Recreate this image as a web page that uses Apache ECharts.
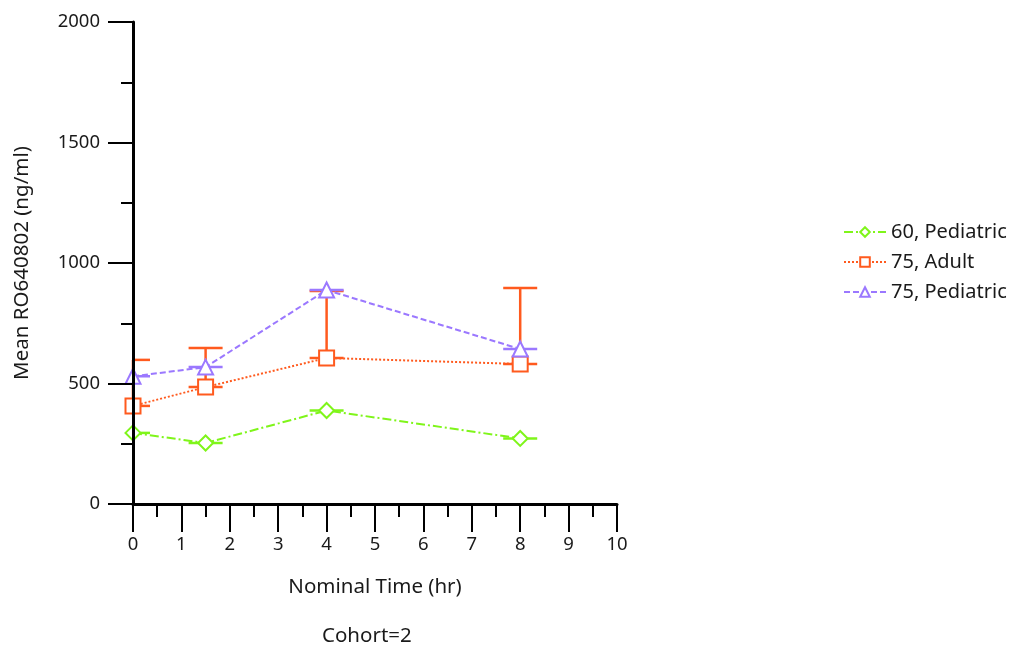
<!DOCTYPE html>
<html>
<head>
<meta charset="utf-8">
<script src="https://cdn.jsdelivr.net/npm/echarts@6/dist/echarts.min.js"></script>
<style>
  html, body { margin: 0; padding: 0; background: #fff; }
  #chart { width: 1017px; height: 648px; }
</style>
</head>
<body>
<div id="chart"></div>
<script>
// nominal sampling times (hr)
var times = [0, 1.5, 4, 8];
// mean concentrations per group
var ped60 = [295, 253, 388, 272];
var adult75 = [407, 485, 606, 581];
var ped75 = [530, 568, 888, 643];
// upper SD per group (0 = single subject)
var ped60Sd = [0, 0, 0, 0];
var adult75Sd = [191, 162, 278, 315];
var ped75Sd = [0, 0, 0, 0];

var groupNames = ['60, Pediatric', '75, Adult', '75, Pediatric'];
var xTicks = [0, 1, 2, 3, 4, 5, 6, 7, 8, 9, 10];

var font = 'Noto Sans';
var textColor = '#1a1a1a';

function pairs(vals) {
    var res = [];
    for (var i = 0; i < times.length; i++) res.push([times[i], vals[i]]);
    return res;
}

function lineSeries(name, vals, color, symbol, size, dash) {
    return {
        type: 'line',
        name: name,
        data: pairs(vals),
        symbol: symbol,
        symbolSize: size,
        z: 3,
        lineStyle: { color: color, width: 2, type: dash },
        itemStyle: { color: color, borderWidth: 2 }
    };
}

function errorSeries(name, vals, sds, color) {
    var data = [];
    for (var i = 0; i < times.length; i++) data.push([times[i], vals[i], vals[i] + sds[i]]);
    return {
        type: 'custom',
        name: name + ' SD',
        data: data,
        z: 2,
        renderItem: function (params, api) {
            var left = params.coordSys.x;
            var lo = api.coord([api.value(0), api.value(1)]);
            var hi = api.coord([api.value(0), api.value(2)]);
            var w = 17;
            var st = { stroke: color, lineWidth: 2.5 };
            var kids = [{
                type: 'line',
                shape: { x1: Math.max(lo[0] - w, left), y1: lo[1], x2: lo[0] + w, y2: lo[1] },
                style: st
            }];
            if (lo[1] - hi[1] > 0.5) {
                kids.push({ type: 'line', shape: { x1: lo[0], y1: lo[1], x2: hi[0], y2: hi[1] }, style: st });
                kids.push({
                    type: 'line',
                    shape: { x1: Math.max(hi[0] - w, left), y1: hi[1], x2: hi[0] + w, y2: hi[1] },
                    style: st
                });
            }
            return { type: 'group', children: kids };
        }
    };
}

var green = '#7ff51a';
var orange = '#ff5a1e';
var purple = '#9b78ff';

var myChart = echarts.init(document.getElementById('chart'));
var option = {
    backgroundColor: '#fff',
    animation: false,
    grid: { left: 133, top: 22, width: 484, height: 482 },
    legend: {
        data: groupNames,
        orient: 'vertical',
        left: 838,
        top: 216,
        itemWidth: 42,
        itemHeight: 12,
        itemGap: 8,
        textStyle: { fontFamily: font, fontSize: 20, color: textColor, lineHeight: 22 }
    },
    xAxis: {
        type: 'value',
        min: 0,
        max: 10,
        interval: 1,
        z: 10,
        name: 'Nominal Time (hr)',
        nameLocation: 'middle',
        nameGap: 73,
        nameTextStyle: { fontFamily: font, fontSize: 20.5, color: textColor },
        axisLine: { show: true, lineStyle: { color: '#000', width: 3 } },
        axisTick: { show: true, length: 28, lineStyle: { color: '#000', width: 2 } },
        minorTick: { show: true, splitNumber: 2, length: 13, lineStyle: { color: '#000', width: 2 } },
        axisLabel: {
            margin: 31, fontFamily: font, fontSize: 18.5, color: textColor,
            formatter: function (v) { return xTicks.indexOf(v) >= 0 ? String(v) : ''; }
        },
        splitLine: { show: false }
    },
    yAxis: {
        type: 'value',
        min: 0,
        max: 2000,
        interval: 500,
        z: 10,
        name: 'Mean RO640802 (ng/ml)',
        nameLocation: 'middle',
        nameGap: 100,
        nameTextStyle: { fontFamily: font, fontSize: 20.5, color: textColor },
        axisLine: { show: true, lineStyle: { color: '#000', width: 3 } },
        axisTick: { show: true, length: 25, lineStyle: { color: '#000', width: 2 } },
        minorTick: { show: true, splitNumber: 2, length: 12, lineStyle: { color: '#000', width: 2 } },
        axisLabel: {
            margin: 33, fontFamily: font, fontSize: 18.5, color: textColor,
            formatter: function (v) { return String(v); }
        },
        splitLine: { show: false }
    },
    graphic: [{
        type: 'text',
        left: 322,
        top: 626,
        style: { text: 'Cohort=2', font: '20.5px "Noto Sans"', fill: textColor }
    }],
    series: [
        errorSeries(groupNames[0], ped60, ped60Sd, green),
        errorSeries(groupNames[1], adult75, adult75Sd, orange),
        errorSeries(groupNames[2], ped75, ped75Sd, purple),
        lineSeries(groupNames[0], ped60, green, 'emptyDiamond', 15, [9, 3, 2, 3]),
        lineSeries(groupNames[1], adult75, orange, 'emptyRect', 15, [2, 2]),
        lineSeries(groupNames[2], ped75, purple, 'emptyTriangle', 15, [6, 3])
    ]
};
myChart.setOption(option);
</script>
</body>
</html>
